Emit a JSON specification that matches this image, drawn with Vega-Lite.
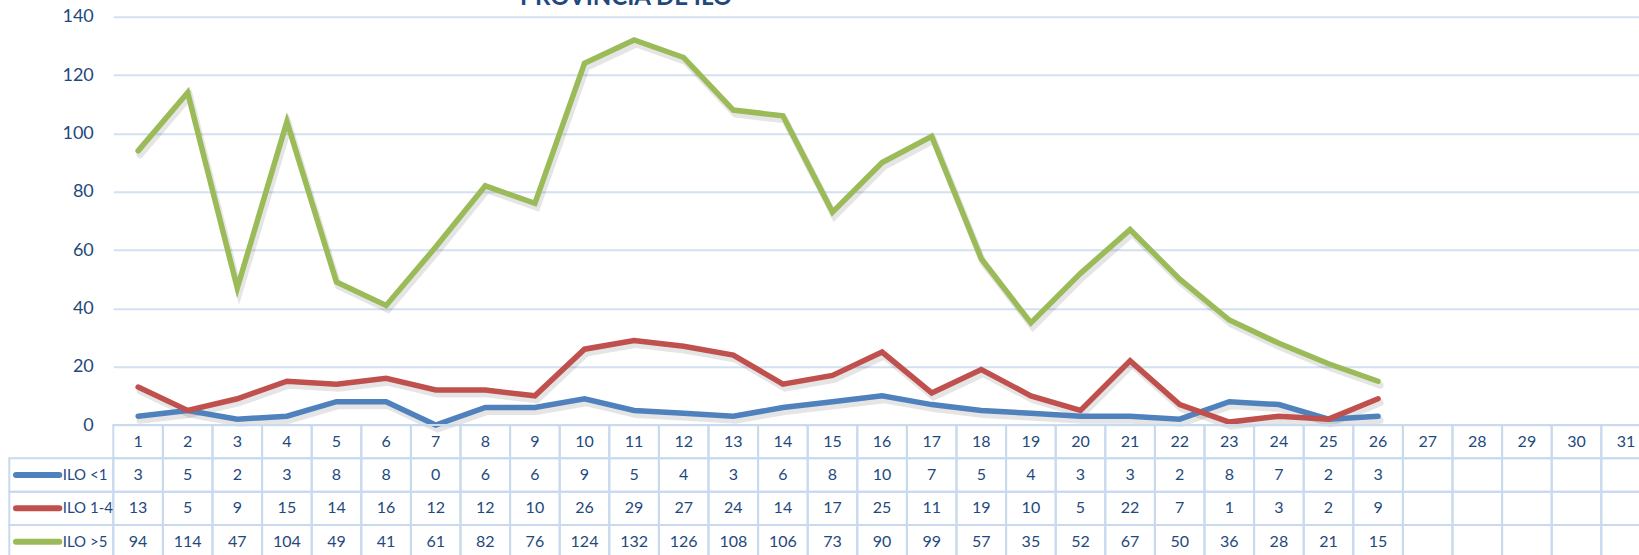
{
  "$schema": "https://vega.github.io/schema/vega-lite/v6.json",
  "width": 1525.7,
  "height": 538.3,
  "padding": {"left": 113.3, "top": 16.7, "right": 0, "bottom": 0},
  "autosize": {"type": "none"},
  "background": "white",
  "config": {"view": {"stroke": null}, "font": "Lato"},
  "data": {
    "values": [
      {"day": 1, "ILO <1": 3, "ILO 1-4": 13, "ILO >5": 94},
      {"day": 2, "ILO <1": 5, "ILO 1-4": 5, "ILO >5": 114},
      {"day": 3, "ILO <1": 2, "ILO 1-4": 9, "ILO >5": 47},
      {"day": 4, "ILO <1": 3, "ILO 1-4": 15, "ILO >5": 104},
      {"day": 5, "ILO <1": 8, "ILO 1-4": 14, "ILO >5": 49},
      {"day": 6, "ILO <1": 8, "ILO 1-4": 16, "ILO >5": 41},
      {"day": 7, "ILO <1": 0, "ILO 1-4": 12, "ILO >5": 61},
      {"day": 8, "ILO <1": 6, "ILO 1-4": 12, "ILO >5": 82},
      {"day": 9, "ILO <1": 6, "ILO 1-4": 10, "ILO >5": 76},
      {"day": 10, "ILO <1": 9, "ILO 1-4": 26, "ILO >5": 124},
      {"day": 11, "ILO <1": 5, "ILO 1-4": 29, "ILO >5": 132},
      {"day": 12, "ILO <1": 4, "ILO 1-4": 27, "ILO >5": 126},
      {"day": 13, "ILO <1": 3, "ILO 1-4": 24, "ILO >5": 108},
      {"day": 14, "ILO <1": 6, "ILO 1-4": 14, "ILO >5": 106},
      {"day": 15, "ILO <1": 8, "ILO 1-4": 17, "ILO >5": 73},
      {"day": 16, "ILO <1": 10, "ILO 1-4": 25, "ILO >5": 90},
      {"day": 17, "ILO <1": 7, "ILO 1-4": 11, "ILO >5": 99},
      {"day": 18, "ILO <1": 5, "ILO 1-4": 19, "ILO >5": 57},
      {"day": 19, "ILO <1": 4, "ILO 1-4": 10, "ILO >5": 35},
      {"day": 20, "ILO <1": 3, "ILO 1-4": 5, "ILO >5": 52},
      {"day": 21, "ILO <1": 3, "ILO 1-4": 22, "ILO >5": 67},
      {"day": 22, "ILO <1": 2, "ILO 1-4": 7, "ILO >5": 50},
      {"day": 23, "ILO <1": 8, "ILO 1-4": 1, "ILO >5": 36},
      {"day": 24, "ILO <1": 7, "ILO 1-4": 3, "ILO >5": 28},
      {"day": 25, "ILO <1": 2, "ILO 1-4": 2, "ILO >5": 21},
      {"day": 26, "ILO <1": 3, "ILO 1-4": 9, "ILO >5": 15},
      {"day": 27},
      {"day": 28},
      {"day": 29},
      {"day": 30},
      {"day": 31}
    ]
  },
  "layer": [
    {
      "transform": [
        {"fold": ["ILO <1", "ILO 1-4", "ILO >5"], "as": ["serie", "val"]},
        {"filter": "isValid(datum.val)"}
      ],
      "encoding": {
        "x": {"field": "day", "type": "quantitative", "scale": {"domain": [0.5, 31.5], "range": [0, 1537.6], "nice": false, "zero": false}, "axis": null},
        "y": {
          "field": "val", "type": "quantitative",
          "scale": {"domain": [0, 140], "range": [408.3, 0], "nice": false},
          "axis": {
            "values": [0, 20, 40, 60, 80, 100, 120, 140],
            "title": null,
            "grid": true,
            "gridColor": "#d3e0f1",
            "gridWidth": 2,
            "domain": false,
            "ticks": false,
            "tickSize": 0,
            "labelPadding": 20,
            "labelFont": "Lato",
            "labelFontSize": 18,
            "labelColor": "#1f497d"
          }
        },
        "detail": {"field": "serie", "type": "nominal"}
      },
      "layer": [
        {
          "mark": {"type": "line", "stroke": "#000000", "opacity": 0.1, "strokeWidth": 7, "xOffset": 2, "yOffset": 4, "strokeCap": "round", "strokeJoin": "miter"}
        },
        {
          "mark": {"type": "line", "strokeWidth": 5.5, "strokeCap": "round", "strokeJoin": "miter"},
          "encoding": {
            "color": {"field": "serie", "type": "nominal", "scale": {"domain": ["ILO <1", "ILO 1-4", "ILO >5"], "range": ["#4f81bd", "#c0504d", "#9bbb59"]}, "legend": null}
          }
        }
      ]
    },
    {
      "data": {"values": [{"titulo": "PROVINCIA DE ILO"}]},
      "mark": {"type": "text", "font": "Lato", "fontSize": 24, "fontWeight": "bold", "color": "#1f497d", "align": "center", "baseline": "alphabetic"},
      "encoding": {
        "x": {"datum": 10.84, "type": "quantitative"},
        "y": {"datum": 144, "type": "quantitative", "scale": {"domain": [0, 140], "range": [408.3, 0], "nice": false}, "axis": null},
        "text": {"field": "titulo", "type": "nominal"}
      }
    },
    {
      "transform": [
        {"fold": ["day", "ILO <1", "ILO 1-4", "ILO >5"], "as": ["row", "val"]}
      ],
      "mark": {"type": "rect", "width": 49.6, "fill": "transparent", "stroke": "#c9d9ee", "strokeWidth": 2},
      "encoding": {
        "x": {"field": "day", "type": "quantitative"},
        "y": {"field": "row", "type": "nominal", "scale": {"domain": ["day", "ILO <1", "ILO 1-4", "ILO >5"], "range": [408.3, 541.6], "paddingInner": 0, "paddingOuter": 0}, "axis": null}
      }
    },
    {
      "transform": [
        {"fold": ["day", "ILO <1", "ILO 1-4", "ILO >5"], "as": ["row", "val"]},
        {"filter": "isValid(datum.val)"}
      ],
      "mark": {"type": "text", "font": "Lato", "fontSize": 16, "color": "#1f497d", "align": "center", "baseline": "middle"},
      "encoding": {
        "x": {"field": "day", "type": "quantitative"},
        "y": {"field": "row", "type": "nominal", "bandPosition": 0.5, "scale": {"domain": ["day", "ILO <1", "ILO 1-4", "ILO >5"], "range": [408.3, 541.6], "paddingInner": 0, "paddingOuter": 0}, "axis": null},
        "text": {"field": "val", "type": "quantitative"}
      }
    },
    {
      "data": {"values": [{"serie": "ILO <1"}, {"serie": "ILO 1-4"}, {"serie": "ILO >5"}]},
      "encoding": {
        "y": {"field": "serie", "type": "nominal", "bandPosition": 0.5, "scale": {"domain": ["day", "ILO <1", "ILO 1-4", "ILO >5"], "range": [408.3, 541.6], "paddingInner": 0, "paddingOuter": 0}, "axis": null}
      },
      "layer": [
        {
          "mark": {"type": "rect", "fill": "transparent", "stroke": "#c9d9ee", "strokeWidth": 2},
          "encoding": {
            "x": {"datum": -1.597, "type": "quantitative"},
            "x2": {"datum": 0.5},
            "y": {"field": "serie", "type": "nominal", "scale": {"domain": ["day", "ILO <1", "ILO 1-4", "ILO >5"], "range": [408.3, 541.6], "paddingInner": 0, "paddingOuter": 0}, "axis": null}
          }
        },
        {
          "mark": {"type": "rule", "strokeWidth": 6, "strokeCap": "round"},
          "encoding": {
            "x": {"datum": -1.462, "type": "quantitative"},
            "x2": {"datum": -0.589},
            "color": {"field": "serie", "type": "nominal", "legend": null}
          }
        },
        {
          "mark": {"type": "text", "font": "Lato", "fontSize": 15, "color": "#1f497d", "align": "left", "baseline": "middle"},
          "encoding": {
            "x": {"datum": -0.52, "type": "quantitative"},
            "text": {"field": "serie", "type": "nominal"}
          }
        }
      ]
    }
  ],
  "resolve": {"scale": {"y": "independent"}}
}
